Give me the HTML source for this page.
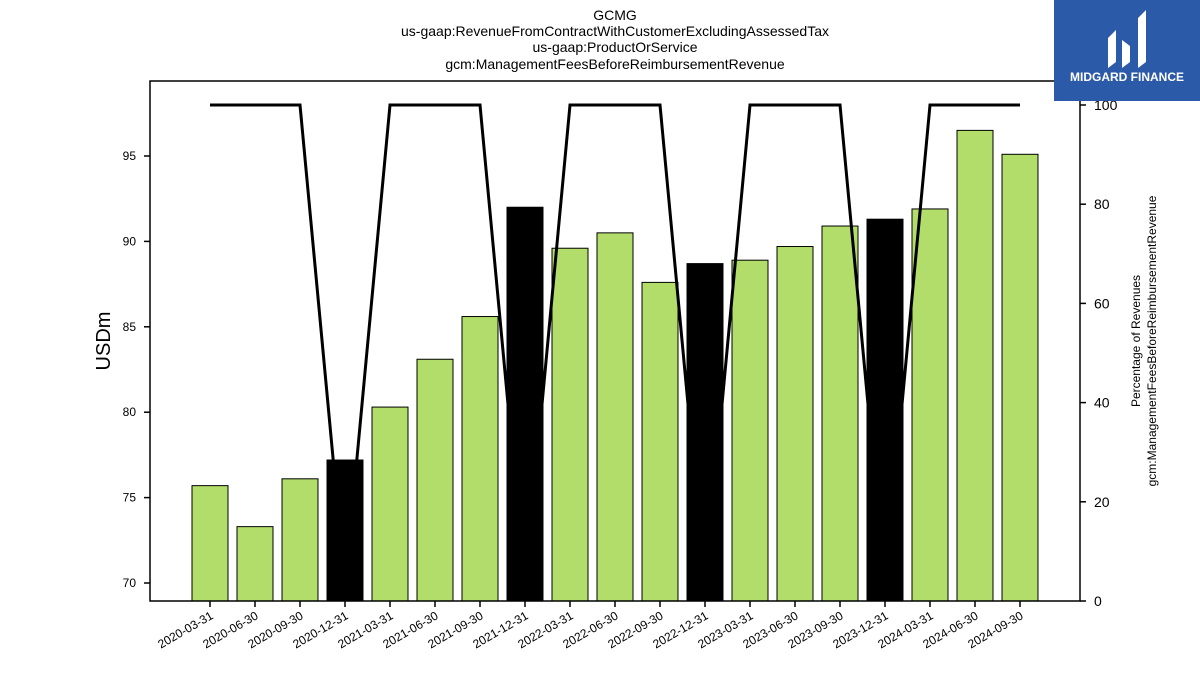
<!DOCTYPE html>
<html><head><meta charset="utf-8"><style>
body{margin:0;background:#fff;}
svg{display:block;font-family:"Liberation Sans","DejaVu Sans",sans-serif;}
</style></head><body>
<svg id="chart" width="1200" height="675">
<g font-size="14" text-anchor="middle" fill="#000">
<text x="615" y="20">GCMG</text>
<text x="615" y="36">us-gaap:RevenueFromContractWithCustomerExcludingAssessedTax</text>
<text x="615" y="52">us-gaap:ProductOrService</text>
<text x="615" y="69">gcm:ManagementFeesBeforeReimbursementRevenue</text>
</g>
<g id="bars"></g>
<g id="line"></g>
<rect x="150" y="81" width="930" height="520" fill="none" stroke="#000" stroke-width="1.5"/>
<g id="xaxis"></g>
<g id="yaxis"></g>
<g id="y2axis"></g>
<text x="110" y="341" font-size="20" text-anchor="middle" transform="rotate(-90 110 341)">USDm</text>
<g font-size="12" text-anchor="middle">
<text x="1140" y="341" transform="rotate(-90 1140 341)">Percentage of Revenues</text>
<text x="1156" y="341" transform="rotate(-90 1156 341)">gcm:ManagementFeesBeforeReimbursementRevenue</text>
</g>
<g>
<rect x="1054" y="0" width="146" height="101" fill="#2b5aa8"/>
<path d="M1108 68 L1108 38 L1116 30 L1116 62 Z M1122 68 L1122 40 L1130 46 L1130 62 Z M1138 68 L1138 18 L1146 10 L1146 62 Z" fill="#fff"/>
<text x="1127" y="81" font-size="12" font-weight="bold" fill="#fff" text-anchor="middle">MIDGARD FINANCE</text>
</g>
</svg>
<script>
const categories=["2020-03-31","2020-06-30","2020-09-30","2020-12-31","2021-03-31","2021-06-30","2021-09-30","2021-12-31","2022-03-31","2022-06-30","2022-09-30","2022-12-31","2023-03-31","2023-06-30","2023-09-30","2023-12-31","2024-03-31","2024-06-30","2024-09-30"];
const revenues=[75.7,73.3,76.1,77.2,80.3,83.1,85.6,92.0,89.6,90.5,87.6,88.7,88.9,89.7,90.9,91.3,91.9,96.5,95.1];
const percentages=[100,100,100,3,100,100,100,3,100,100,100,3,100,100,100,3,100,100,100];
const yTicks=[70,75,80,85,90,95];
const y2Ticks=[0,20,40,60,80,100];
const NS="http://www.w3.org/2000/svg";
const xPos=i=>210+i*45;
const yL=v=>583-(v-70)*17.08;
const yR=v=>601-v*4.96;
function mk(tag,attrs,parent){const e=document.createElementNS(NS,tag);for(const k in attrs)e.setAttribute(k,attrs[k]);parent.appendChild(e);return e;}
const bars=document.getElementById('bars');
revenues.forEach((v,i)=>{
  const q4=categories[i].endsWith('12-31');
  const r=mk('rect',{x:xPos(i)-18,y:yL(v),width:36,height:601-yL(v),fill:q4?'#000':'#b2dd6a',stroke:'#000','stroke-width':1},bars);
  
  
});
const line=document.getElementById('line');
const pl=mk('polyline',{points:percentages.map((p,i)=>xPos(i)+','+yR(p)).join(' '),fill:'none',stroke:'#000','stroke-width':3},line);


const xa=document.getElementById('xaxis');
categories.forEach((c,i)=>{
  const x=xPos(i);
  mk('line',{x1:x,y1:601,x2:x,y2:607,stroke:'#000','stroke-width':1.5},xa);
  const t=mk('text',{x:x+4,y:618,'font-size':12,'text-anchor':'end',transform:`rotate(-30 ${x+4} 618)`},xa);
  t.textContent=c;
  
  
});
const ya=document.getElementById('yaxis');
yTicks.forEach(v=>{
  const y=yL(v);
  mk('line',{x1:144,y1:y,x2:150,y2:y,stroke:'#000','stroke-width':1.5},ya);
  const t=mk('text',{x:136,y:y+4,'font-size':12,'text-anchor':'end'},ya);
  t.textContent=v;
  
  
});
const y2=document.getElementById('y2axis');
y2Ticks.forEach(v=>{
  const y=yR(v);
  mk('line',{x1:1080,y1:y,x2:1086,y2:y,stroke:'#000','stroke-width':1.5},y2);
  const t=mk('text',{x:1094,y:y+5,'font-size':14},y2);
  t.textContent=v;
  
  
});
</script>
</body></html>
